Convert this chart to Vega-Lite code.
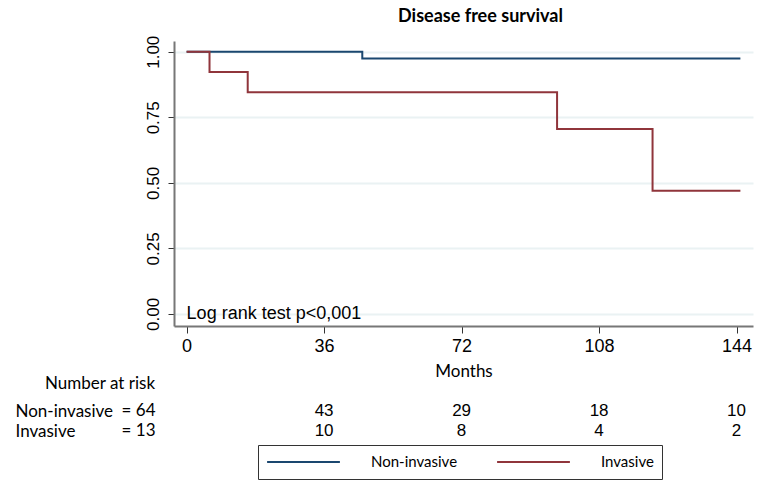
{
  "$schema": "https://vega.github.io/schema/vega-lite/v6.json",
  "padding": {"left": 15, "top": 8, "right": 5, "bottom": 0},
  "background": "white",
  "datasets": {
    "km": [
      {"group": "Non-invasive", "months": 0, "survival": 1.0},
      {"group": "Non-invasive", "months": 46, "survival": 0.974},
      {"group": "Non-invasive", "months": 145, "survival": 0.974},
      {"group": "Invasive", "months": 0, "survival": 1.0},
      {"group": "Invasive", "months": 6, "survival": 0.923},
      {"group": "Invasive", "months": 16, "survival": 0.846},
      {"group": "Invasive", "months": 97, "survival": 0.705},
      {"group": "Invasive", "months": 122, "survival": 0.47},
      {"group": "Invasive", "months": 145, "survival": 0.47}
    ],
    "risk": [
      {"group": "Non-invasive", "months": 0, "n": 64},
      {"group": "Non-invasive", "months": 36, "n": 43},
      {"group": "Non-invasive", "months": 72, "n": 29},
      {"group": "Non-invasive", "months": 108, "n": 18},
      {"group": "Non-invasive", "months": 144, "n": 10},
      {"group": "Invasive", "months": 0, "n": 13},
      {"group": "Invasive", "months": 36, "n": 10},
      {"group": "Invasive", "months": 72, "n": 8},
      {"group": "Invasive", "months": 108, "n": 4},
      {"group": "Invasive", "months": 144, "n": 2}
    ],
    "note": [{"label": "Log rank test p<0,001"}]
  },
  "bounds": "flush",
  "spacing": 75,
  "vconcat": [
    {
      "width": 579,
      "height": 285,
      "title": {"text": "Disease free survival", "font": "Lato", "fontSize": 18, "fontWeight": "bold", "color": "#000", "anchor": "middle", "dx": 17, "offset": 9},
      "layer": [
        {
          "data": {"name": "km"},
          "mark": {"type": "line", "interpolate": "step-after", "strokeWidth": 2},
          "encoding": {
            "x": {"field": "months", "type": "quantitative",
              "scale": {"domain": [-3.3, 148.3], "nice": false, "zero": false},
              "axis": {"values": [0, 36, 72, 108, 144], "title": "Months", "grid": false,
                "labelFont": "Liberation Sans", "labelFontSize": 18, "labelColor": "#000", "labelPadding": 4,
                "tickSize": 7, "tickColor": "#333", "domainColor": "#777", "domainWidth": 2,
                "titleFont": "Lato", "titleFontSize": 17, "titleFontWeight": "normal", "titleColor": "#000", "titlePadding": 8}},
            "y": {"field": "survival", "type": "quantitative",
              "scale": {"domain": [-0.046, 1.041], "nice": false, "zero": false},
              "axis": {"values": [0, 0.25, 0.5, 0.75, 1], "format": ".2f", "title": null,
                "grid": true, "gridColor": "#eaf2f3", "gridWidth": 2,
                "labelAngle": -90, "labelAlign": "center", "labelBaseline": "bottom",
                "labelFont": "Liberation Sans", "labelFontSize": 17, "labelColor": "#000", "labelPadding": 6,
                "tickSize": 6, "tickColor": "#333", "domainColor": "#777", "domainWidth": 2}},
            "color": {"field": "group", "type": "nominal",
              "scale": {"domain": ["Non-invasive", "Invasive"], "range": ["#1a476f", "#90353b"]},
              "legend": {"title": null, "orient": "none", "legendX": 84, "legendY": 404, "direction": "horizontal",
                "strokeColor": "#333", "fillColor": "white", "padding": 8, "clipHeight": 18,
                "symbolType": "stroke", "symbolSize": 5300, "symbolStrokeWidth": 2,
                "labelFont": "Lato", "labelFontSize": 15, "labelColor": "#000", "labelOffset": 30, "columnPadding": 38}}
          }
        },
        {
          "data": {"name": "note"},
          "mark": {"type": "text", "align": "left", "baseline": "middle", "font": "Liberation Sans", "fontSize": 18, "color": "#000"},
          "encoding": {
            "x": {"datum": 0},
            "y": {"datum": 0},
            "text": {"field": "label"}
          }
        }
      ]
    },
    {
      "width": 579,
      "height": 40,
      "title": {"text": "Number at risk", "font": "Lato", "fontSize": 17, "fontWeight": "normal", "color": "#000", "anchor": "start", "frame": "bounds", "dx": 30, "offset": 8},
      "data": {"name": "risk"},
      "encoding": {
        "x": {"field": "months", "type": "quantitative", "scale": {"domain": [-3.3, 148.3], "nice": false, "zero": false}, "axis": null},
        "y": {"field": "group", "type": "nominal", "scale": {"domain": ["Non-invasive", "Invasive"], "paddingInner": 0, "paddingOuter": 0},
          "axis": {"title": null, "ticks": false, "domain": false, "labelAlign": "left", "labelPadding": 159,
            "labelFont": "Lato", "labelFontSize": 17, "labelColor": "#000"}}
      },
      "layer": [
        {
          "transform": [{"filter": "datum.months > 0"}],
          "mark": {"type": "text", "font": "Liberation Sans", "fontSize": 17, "color": "#000", "baseline": "middle"},
          "encoding": {"text": {"field": "n", "type": "quantitative"}}
        },
        {
          "transform": [{"filter": "datum.months == 0"}, {"calculate": "'= ' + datum.n", "as": "baseline"}],
          "mark": {"type": "text", "font": "Lato", "fontSize": 17, "color": "#000", "baseline": "middle", "align": "left", "dx": -65},
          "encoding": {"text": {"field": "baseline"}}
        }
      ]
    }
  ],
  "config": {
    "view": {"stroke": null},
    "axis": {"labelOverlap": false}
  }
}
